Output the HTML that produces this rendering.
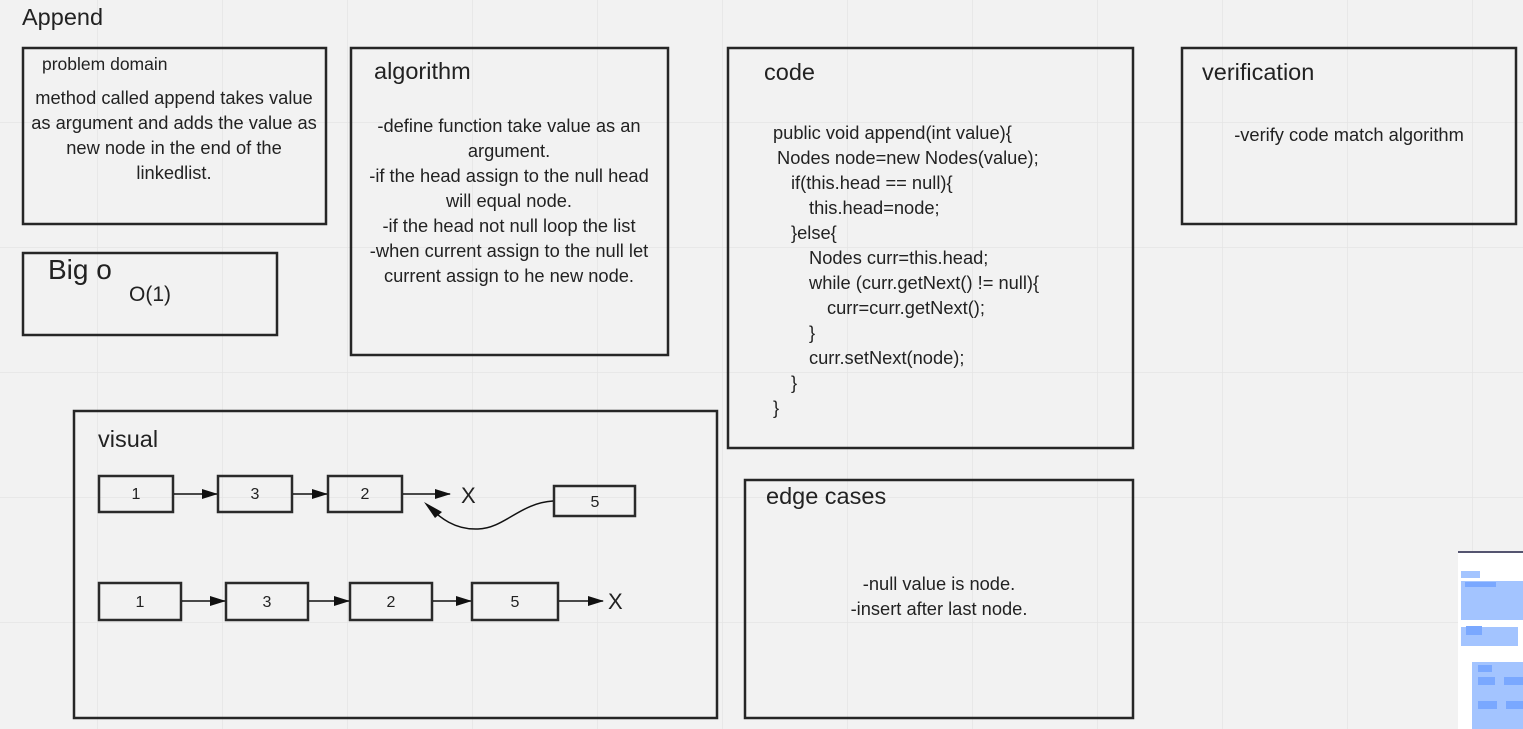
<!DOCTYPE html>
<html><head><meta charset="utf-8"><style>
html,body{margin:0;padding:0;width:1523px;height:729px;overflow:hidden;background:#f2f2f2;}
svg{position:absolute;left:0;top:0;}
text{font-family:"Liberation Sans",sans-serif;fill:#222;}
.b{font-size:18.3px;}
.t{font-size:23.5px;}
</style></head><body>
<svg width="1523" height="729" viewBox="0 0 1523 729">
<defs>
<pattern id="g" x="97" y="-3" width="125" height="125" patternUnits="userSpaceOnUse">
<path d="M0 0V125M0 0H125" stroke="#e4e4e4" stroke-width="1.5" fill="none"/>
</pattern>
<marker id="a" markerWidth="16" markerHeight="10" refX="15" refY="5" orient="auto" markerUnits="userSpaceOnUse"><path d="M0 0L16 5L0 10z" fill="#111"/></marker>
</defs>
<rect width="1523" height="729" fill="url(#g)"/>
<g fill="none" stroke="#262626" stroke-width="2.5">
<rect x="23" y="48" width="303" height="176"/>
<rect x="351" y="48" width="317" height="307"/>
<rect x="728" y="48" width="405" height="400"/>
<rect x="1182" y="48" width="334" height="176"/>
<rect x="23" y="253" width="254" height="82"/>
<rect x="74" y="411" width="643" height="307"/>
<rect x="745" y="480" width="388" height="238"/>
</g>
<text x="22" y="25" class="t">Append</text>
<text x="42" y="70" style="font-size:17.5px">problem domain</text>
<g class="b" text-anchor="middle">
<text x="174" y="104">method called append takes value</text>
<text x="174" y="129">as argument and adds the value as</text>
<text x="174" y="154">new node in the end of the</text>
<text x="174" y="179">linkedlist.</text>
</g>
<text x="374" y="79" class="t">algorithm</text>
<g class="b" text-anchor="middle">
<text x="509" y="132">-define function take value as an</text>
<text x="509" y="157">argument.</text>
<text x="509" y="182">-if the head assign to the null head</text>
<text x="509" y="207">will equal node.</text>
<text x="509" y="232">-if the head not null loop the list</text>
<text x="509" y="257">-when current assign to the null let</text>
<text x="509" y="282">current assign to he new node.</text>
</g>
<text x="764" y="80" class="t">code</text>
<g class="b">
<text x="773" y="139">public void append(int value){</text>
<text x="777" y="164">Nodes node=new Nodes(value);</text>
<text x="791" y="189">if(this.head == null){</text>
<text x="809" y="214">this.head=node;</text>
<text x="791" y="239">}else{</text>
<text x="809" y="264">Nodes curr=this.head;</text>
<text x="809" y="289">while (curr.getNext() != null){</text>
<text x="827" y="314">curr=curr.getNext();</text>
<text x="809" y="339">}</text>
<text x="809" y="364">curr.setNext(node);</text>
<text x="791" y="389">}</text>
<text x="773" y="414">}</text>
</g>
<text x="1202" y="80" class="t">verification</text>
<text x="1349" y="141" class="b" text-anchor="middle">-verify code match algorithm</text>
<text x="48" y="279" style="font-size:28px">Big o</text>
<text x="129" y="301" style="font-size:21px">O(1)</text>
<text x="98" y="447" class="t">visual</text>
<text x="766" y="504" class="t">edge cases</text>
<g class="b" text-anchor="middle">
<text x="939" y="590">-null value is node.</text>
<text x="939" y="615">-insert after last node.</text>
</g>
<g fill="none" stroke="#2a2a2a" stroke-width="2.5">
<rect x="99" y="476" width="74" height="36"/>
<rect x="218" y="476" width="74" height="36"/>
<rect x="328" y="476" width="74" height="36"/>
<rect x="554" y="486" width="81" height="30"/>
<rect x="99" y="583" width="82" height="37"/>
<rect x="226" y="583" width="82" height="37"/>
<rect x="350" y="583" width="82" height="37"/>
<rect x="472" y="583" width="86" height="37"/>
</g>
<g style="font-size:16px" text-anchor="middle">
<text x="136" y="499">1</text><text x="255" y="499">3</text><text x="365" y="499">2</text><text x="595" y="507">5</text>
<text x="140" y="607">1</text><text x="267" y="607">3</text><text x="391" y="607">2</text><text x="515" y="607">5</text>
</g>
<g style="font-size:22px"><text x="461" y="503">X</text><text x="608" y="609">X</text></g>
<g stroke="#111" stroke-width="1.5" fill="none">
<path d="M174 494H217" marker-end="url(#a)"/>
<path d="M293 494H327" marker-end="url(#a)"/>
<path d="M403 494H450" marker-end="url(#a)"/>
<path d="M182 601H225" marker-end="url(#a)"/>
<path d="M309 601H349" marker-end="url(#a)"/>
<path d="M433 601H471" marker-end="url(#a)"/>
<path d="M559 601H603" marker-end="url(#a)"/>
<path d="M553 501C520 503 505 528 478 529C455 530 440 518 427 505"/>
</g>
<path d="M424 502L442 512L435 518z" fill="#111"/>
<rect x="1458" y="551" width="70" height="180" fill="#fff"/>
<rect x="1458" y="551" width="70" height="2" fill="#555570"/>
<g fill="#a3c4ff">
<rect x="1461" y="571" width="19" height="7"/>
<rect x="1461" y="581" width="70" height="39"/>
<rect x="1461" y="627" width="57" height="19"/>
<rect x="1472" y="662" width="60" height="70"/>
</g>
<g fill="#7aa8ff">
<rect x="1465" y="582" width="31" height="5"/>
<rect x="1466" y="626" width="16" height="9"/>
<rect x="1478" y="665" width="14" height="7"/>
<rect x="1478" y="677" width="17" height="8"/>
<rect x="1504" y="677" width="19" height="8"/>
<rect x="1478" y="701" width="19" height="8"/>
<rect x="1506" y="701" width="19" height="8"/>
</g>
</svg>
</body></html>
